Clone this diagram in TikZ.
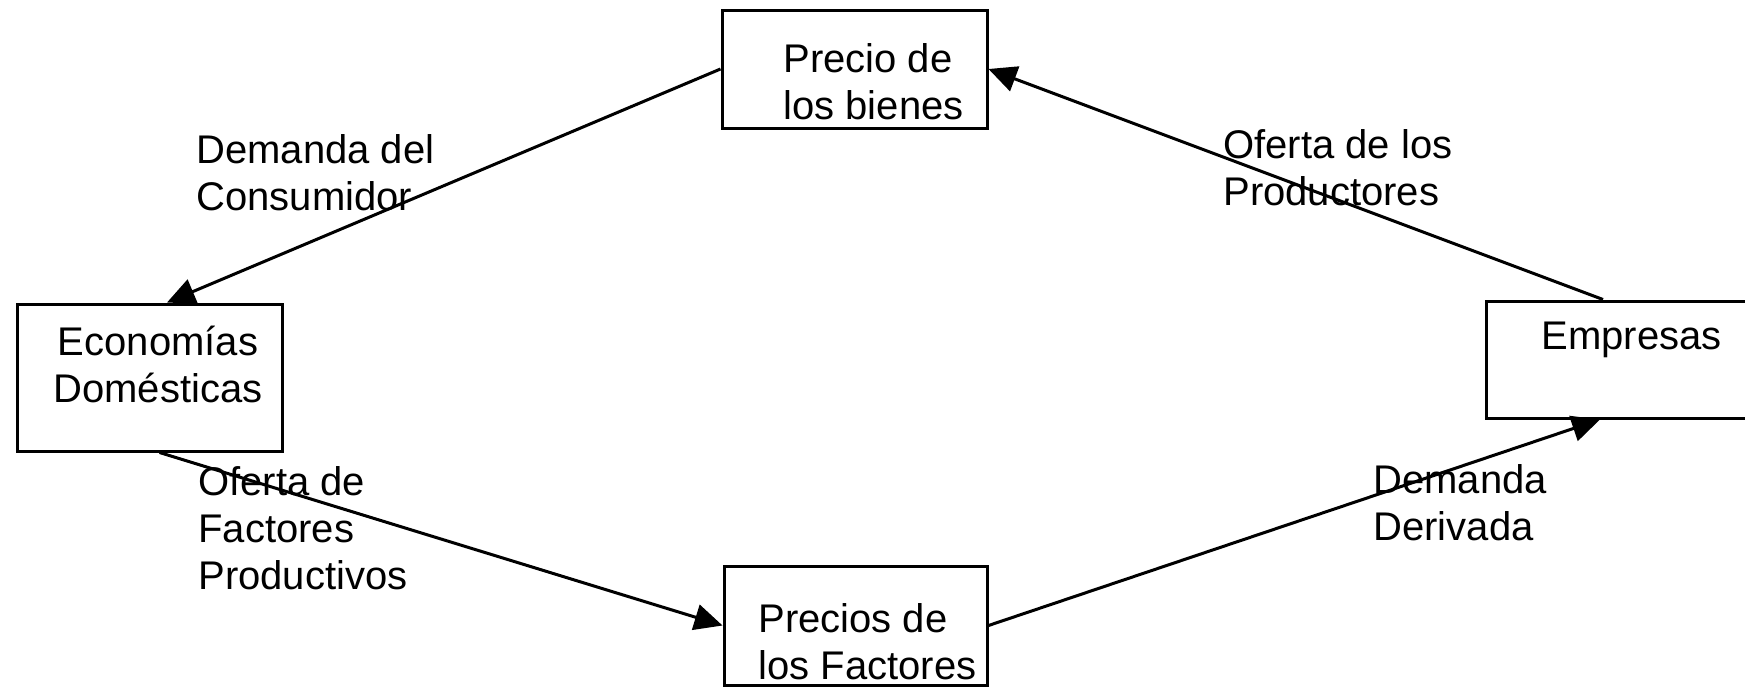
\documentclass[tikz,border=0pt]{standalone}
\usepackage{fontspec}
\setmainfont{Liberation Sans}
\usepackage{tikz}
\usetikzlibrary{arrows.meta, calc, positioning}

\begin{document}
\begin{tikzpicture}[x=0.5pt, y=-0.5pt, line width=1.5pt,
    every node/.style={font=\fontsize{20}{23.5}\selectfont},
    caja/.style={draw, rectangle, inner sep=0pt},
    texto/.style={inner sep=0pt, anchor=north west, align=left},
    flecha/.style={-{Triangle[length=14pt, width=13pt]}}]
    \useasboundingbox (0,0) rectangle (1745,686);

    % The four boxes of the circuit
    \node[caja, minimum width=132.5pt, minimum height=59pt] (bienes) at (854.5,69) {};
    \node[caja, minimum width=132.5pt, minimum height=73.5pt] (hogares) at (149.5,377.5) {};
    \node[caja, minimum width=145pt, minimum height=58.5pt] (empresas) at (1631,359.5) {};
    \node[caja, minimum width=131.5pt, minimum height=59.5pt] (factores) at (855.5,625.5) {};

    % Texts inside the boxes
    \node[texto] (tbienes) at (782,42) {Precio de\\los bienes};
    \node[texto, anchor=north, align=center] (thogares) at (158,325) {Economías\\Domésticas};
    \node[texto] (tempresas) at (1540,320) {Empresas};
    \node[texto] (tfactores) at (757,602) {Precios de\\los Factores};

    % Labels of the flows
    \node[texto] (demcons) at (195,133) {Demanda del\\Consumidor};
    \node[texto] (ofprod) at (1222,128) {Oferta de los\\Productores};
    \node[texto] (offact) at (197,465) {Oferta de\\Factores\\Productivos};
    \node[texto] (demder) at (1372,463) {Demanda\\Derivada};

    % Arrows between the boxes
    \draw[flecha] (bienes.west) -- ($(hogares.north)+(17.5,0)$);
    \draw[flecha] ($(empresas.north)+(-28,0)$) -- (bienes.east);
    \draw[flecha] ($(hogares.south)+(10,0)$) -- (factores.west);
    \draw[flecha] (factores.east) -- ($(empresas.south)+(-31,0)$);
\end{tikzpicture}
\end{document}
